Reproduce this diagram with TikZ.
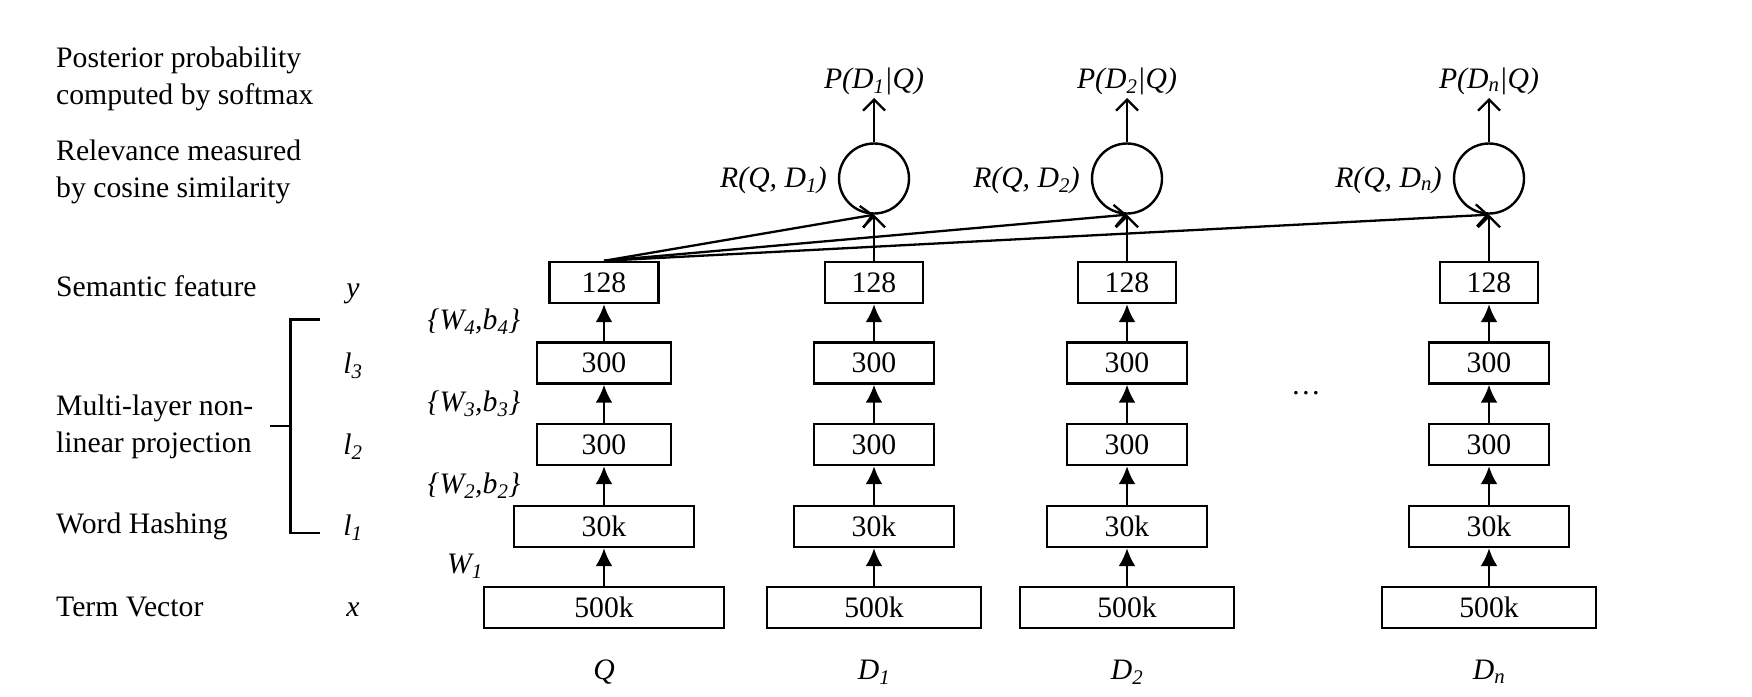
\documentclass[tikz,border=0pt]{standalone}
\usepackage{fontspec}
\setmainfont{Liberation Serif}
\usetikzlibrary{arrows.meta}
\newcommand{\mysub}[1]{\textsubscript{#1}}
\begin{document}
\begin{tikzpicture}[x=1pt,y=-1pt,
  every node/.style={font=\fontsize{29.7}{37}\selectfont},
  layer/.style={draw, line width=2.4pt, minimum height=41pt, inner sep=0pt},
  lbl/.style={align=left, anchor=west, inner sep=0pt},
  var/.style={font=\fontsize{29.7}{37}\selectfont\itshape, inner sep=0pt},
  simnode/.style={circle, draw, line width=2.4pt, minimum size=70pt, inner sep=0pt},
  fwd/.style={line width=2.4pt, -{Latex[length=18pt,width=17pt]}},
  openarr/.style={line width=2.3pt, -{Straight Barb[length=11pt,width=22pt,line width=2.3pt]}},
]
\useasboundingbox (0,0) rectangle (1752,696);
\fill[white] (0,0) rectangle (1752,696);

% left descriptions
\node[lbl] (t1) at (56,79) {Posterior probability\\computed by softmax};
\node[lbl] (t2) at (56,172) {Relevance measured\\by cosine similarity};
\node[lbl] (t3) at (56,286) {Semantic feature};
\node[lbl] (t4) at (56,427) {Multi-layer non-\\linear projection};
\node[lbl] (t5) at (56,526) {Word Hashing};
\node[lbl] (t6) at (56,607) {Term Vector};

% variable names
\node[var] (vy) at (353,294) {y};
\node[var] (vl3) at (353,366) {l\mysub{3}};
\node[var] (vl2) at (353,447) {l\mysub{2}};
\node[var] (vl1) at (353,528) {l\mysub{1}};
\node[var] (vx) at (353,610) {x};

% bracket
\draw[line width=2.4pt] (320,319.5) -- (290.5,319.5) -- (290.5,533) -- (320,533);
\draw[line width=2.4pt] (290.5,426) -- (270,426);

% weights
\node[var] (w4) at (474,322) {\{W\mysub{4},b\mysub{4}\}};
\node[var] (w3) at (474,404) {\{W\mysub{3},b\mysub{3}\}};
\node[var] (w2) at (474,486) {\{W\mysub{2},b\mysub{2}\}};
\node[var] (w1) at (465,566) {W\mysub{1}};

% columns
\foreach \n/\cx/\ba/\bb/\bc/\bd/\lab in {q/604/109/134/180/240/{Q}, d1/874/98/120/160/214/{D\mysub{1}}, d2/1127/98/120/160/214/{D\mysub{2}}, dn/1489/98/120/160/214/{D\mysub{n}}} {
  \node[layer, minimum width=\ba pt] (\n-a) at (\cx,282.5) {128};
  \node[layer, minimum width=\bb pt] (\n-b) at (\cx,363) {300};
  \node[layer, minimum width=\bb pt] (\n-c) at (\cx,444.5) {300};
  \node[layer, minimum width=\bc pt] (\n-d) at (\cx,526.5) {30k};
  \node[layer, minimum width=\bd pt] (\n-e) at (\cx,607.5) {500k};
  \node[var] (\n-lab) at (\cx,672) {\lab};
  \draw[fwd] (\n-e.north) -- (\n-d.south);
  \draw[fwd] (\n-d.north) -- (\n-c.south);
  \draw[fwd] (\n-c.north) -- (\n-b.south);
  \draw[fwd] (\n-b.north) -- (\n-a.south);
}

\foreach \n/\cx/\s in {d1/874/1, d2/1127/2, dn/1489/n} {
  \node[simnode] (\n-r) at (\cx,178.5) {};
  \node[var, anchor=base] (\n-p) at (\cx,88) {P(D\mysub{\s}|Q)};
  \coordinate (\n-pt) at (\cx,98);
  \node[var, anchor=east] (\n-rl) at (\cx-47,180) {R(Q, D\mysub{\s})};
  \draw[openarr] (\n-r.north) -- (\n-pt);
  \draw[openarr] (\n-a.north) -- (\n-r.south);
  \draw[openarr] (q-a.north) -- (\n-r.south);
}

\node (dots) at (1306,393) {\ldots};
\end{tikzpicture}
\end{document}
